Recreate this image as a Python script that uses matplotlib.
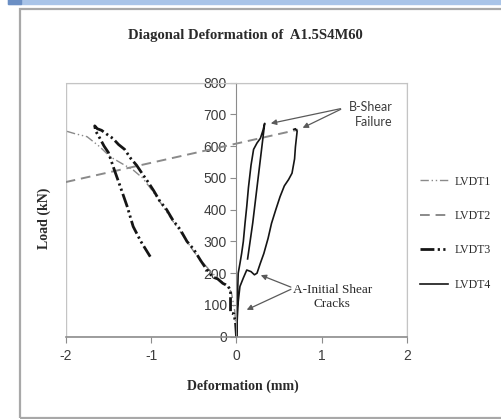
import numpy as np
import matplotlib
matplotlib.use("Agg")
import matplotlib.pyplot as plt
from matplotlib.patches import Rectangle

plt.rcParams["axes.unicode_minus"] = False

# ---------------------------------------------------------------------------
# Data (deformation mm, load kN)
# ---------------------------------------------------------------------------
lvdt1_x = [0, -0.02, -0.06, -0.12, -0.20, -0.30, -0.40, -0.50, -0.62, -0.74,
           -0.86, -0.98, -1.10, -1.21, -1.34, -1.48, -1.60, -1.75, -1.90,
           -2.00, -2.08]
lvdt1_y = [0, 80, 140, 165, 178, 205, 235, 268, 316, 362,
           410, 458, 500, 525, 545, 567, 598, 630, 640,
           648, 655]

lvdt2_x = [-2.0, 0.72]
lvdt2_y = [487, 652]

lvdt3_x = [0, -0.01, -0.03, -0.07, -0.07, -0.10, -0.16, -0.22, -0.28, -0.35,
           -0.42, -0.50, -0.58, -0.66, -0.74, -0.82, -0.90, -0.97, -1.03,
           -1.10, -1.17, -1.24, -1.31, -1.38, -1.45, -1.52, -1.58, -1.63,
           -1.66, -1.65, -1.60, -1.55, -1.50, -1.43, -1.36, -1.28, -1.21,
           -1.12, -1.01]
lvdt3_y = [0, 40, 72, 75, 145, 160, 168, 182, 188, 212,
           240, 275, 300, 338, 365, 401, 428, 460, 485,
           512, 540, 562, 590, 605, 625, 638, 650, 655,
           664, 648, 625, 600, 580, 525, 472, 410, 347,
           300, 252]

# two solid branches (NaN splits them)
lvdt4_x = [0, 0.005, 0.01, 0.02, 0.04, 0.06, 0.08, 0.10, 0.12, 0.14, 0.17,
           0.20, 0.24, 0.28, 0.31, 0.33, 0.26, 0.19, 0.13, np.nan,
           0, 0.01, 0.02, 0.04, 0.08, 0.12, 0.17, 0.21, 0.24, 0.28, 0.32,
           0.37, 0.41, 0.46, 0.51, 0.56, 0.61, 0.65, 0.68, 0.69, 0.71,
           0.69, 0.67]
lvdt4_y = [0, 60, 115, 200, 230, 262, 300, 358, 410, 470, 540,
           590, 610, 625, 650, 672, 515, 358, 245, np.nan,
           0, 63, 110, 158, 185, 210, 205, 195, 200, 232, 262,
           310, 357, 400, 441, 475, 495, 515, 560, 598, 647,
           655, 653]

x_ticks = [-2, -1, 0, 1, 2]
y_ticks = [0, 100, 200, 300, 400, 500, 600, 700, 800]

SERIF = "Liberation Serif"
SANS = "Liberation Sans"
TICK_C = "#3c3c3c"

fig = plt.figure(figsize=(5.02, 4.19), dpi=100)
fig.patch.set_facecolor("white")

# window chrome: blue strip on top and grey chart frame
fig.patches.append(Rectangle((8 / 502, 414.5 / 419), 1, 5 / 419,
                             transform=fig.transFigure, color="#a9c4e8", zorder=0))
fig.patches.append(Rectangle((8 / 502, 414.5 / 419), 13 / 502, 5 / 419,
                             transform=fig.transFigure, color="#6b8fc4", zorder=0))
fig.patches.append(Rectangle((20.5 / 502, 1.5 / 419), 0.99, 408 / 419,
                             transform=fig.transFigure, fill=False,
                             edgecolor="#a8a8a8", linewidth=1.6, zorder=0))

ax = fig.add_axes([65.7 / 502, (419 - 336.7) / 419, 341.6 / 502, 254 / 419])
ax.set_xlim(-2, 2)
ax.set_ylim(0, 800)

ax.plot(lvdt1_x, lvdt1_y, color="#8a8a8a", lw=1.0, dashes=(6, 2, 1, 2, 1, 2),
        label="LVDT1")
ax.plot(lvdt2_x, lvdt2_y, color="#8a8a8a", lw=1.4, dashes=(5, 3), label="LVDT2")
ax.plot(lvdt3_x, lvdt3_y, color="#151515", lw=2.0,
        dashes=(5, 1.2, 0.8, 1.2, 0.8, 1.2), label="LVDT3")
ax.plot(lvdt4_x, lvdt4_y, color="#151515", lw=1.2, label="LVDT4")

# spines: y axis sits at x=0, light box round the plot area
for s in ("top", "right"):
    ax.spines[s].set_color("#c4c4c4")
ax.spines["left"].set_position(("data", 0))
ax.spines["left"].set_color("#8c8c8c")
ax.spines["bottom"].set_color("#8c8c8c")
ax.spines["bottom"].set_linewidth(1.2)
ax.add_patch(Rectangle((0, 0), 1, 1, transform=ax.transAxes, fill=False,
                       edgecolor="#c4c4c4", linewidth=1.0, zorder=0))

ax.set_xticks(x_ticks)
ax.set_yticks(y_ticks)
ax.tick_params(axis="both", direction="out", length=4, color="#8c8c8c",
               labelsize=10, labelcolor=TICK_C)
ax.tick_params(axis="x", pad=5)
ax.tick_params(axis="y", pad=3)
for t in ax.get_xticklabels() + ax.get_yticklabels():
    t.set_fontfamily(SANS)

# annotations
arrow = dict(arrowstyle="-|>", color="#5a5a5a", lw=0.9, mutation_scale=8)
for head in [(0.37, 670), (0.745, 654)]:
    ax.annotate("", xy=head, xytext=(1.25, 720), arrowprops=arrow,
                annotation_clip=False)
ax.text(1.83, 742, "B-Shear\nFailure", ha="right", va="top", ma="right",
        fontsize=9, fontfamily="Lato", color="#3c3c3c", linespacing=1.25)

for head in [(0.254, 197), (0.09, 81)]:
    ax.annotate("", xy=head, xytext=(0.667, 153), arrowprops=arrow,
                annotation_clip=False)
ax.text(1.12, 124, "A-Initial Shear\nCracks", ha="center", va="center",
        ma="center", fontsize=9.5, fontfamily=SERIF, color="#2a2a2a",
        linespacing=1.2)

leg = ax.legend(loc="upper left", bbox_to_anchor=(409 / 502, (419 - 165) / 419),
                bbox_transform=fig.transFigure, frameon=False,
                prop={"family": SERIF, "size": 8.5}, handlelength=2.4,
                labelspacing=1.9, handletextpad=0.55)
for t in leg.get_texts():
    t.set_color("#2a2a2a")

fig.text(245 / 502, 1 - 35 / 419, "Diagonal Deformation of  A1.5S4M60",
         ha="center", va="center", fontsize=10.5, fontweight="bold",
         fontfamily=SERIF, color="#2a2a2a")
fig.text(243 / 502, 1 - 386 / 419, "Deformation (mm)", ha="center", va="center",
         fontsize=10, fontweight="bold", fontfamily=SERIF, color="#2a2a2a")
fig.text(44 / 502, 1 - 218 / 419, "Load (kN)", ha="center", va="center",
         rotation=90, fontsize=10, fontweight="bold", fontfamily=SERIF,
         color="#2a2a2a")

fig.savefig("out.png", dpi=100, facecolor="white")
